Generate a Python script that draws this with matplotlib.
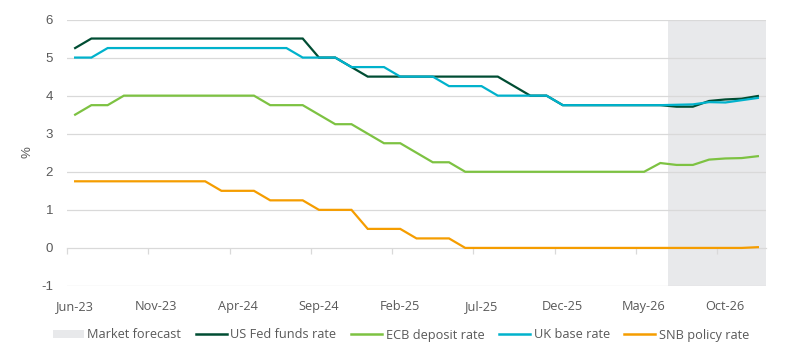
import matplotlib
matplotlib.use("Agg")
import matplotlib.pyplot as plt
from matplotlib.patches import Patch
from matplotlib.lines import Line2D
import numpy as np
import pandas as pd

months = list(pd.date_range("2023-06-01", periods=43, freq="MS").strftime("%b-%y"))

fed = [5.25] + [5.5] * 14 + [5.0, 5.0, 4.75] + [4.5] * 9 + [4.25, 4.0, 4.0] + [3.75] * 7 + \
      [3.71, 3.71, 3.86, 3.90, 3.92, 3.99]
uk = [5.0, 5.0] + [5.25] * 12 + [5.0] * 3 + [4.75] * 3 + [4.5] * 3 + [4.25] * 3 + [4.0] * 4 + \
     [3.75] * 7 + [3.76, 3.77, 3.83, 3.82, 3.88, 3.94]
ecb = [3.5, 3.75, 3.75] + [4.0] * 9 + [3.75] * 3 + [3.5, 3.25, 3.25, 3.0, 2.75, 2.75, 2.5, 2.25, 2.25] + \
      [2.0] * 12 + [2.23, 2.18, 2.18, 2.32, 2.35, 2.36, 2.41]
snb = [1.75] * 9 + [1.5] * 3 + [1.25] * 3 + [1.0] * 3 + [0.5] * 3 + [0.25] * 3 + [0.0] * 18 + [0.02]

forecast_start = "Jul-26"
series_names = ["US Fed funds rate", "ECB deposit rate", "UK base rate", "SNB policy rate"]
tick_labels = ["Jun-23", "Nov-23", "Apr-24", "Sep-24", "Feb-25", "Jul-25", "Dec-25", "May-26", "Oct-26"]
y_ticks = [-1, 0, 1, 2, 3, 4, 5, 6]

colors = ["#004d33", "#7dc242", "#00b2cc", "#f59d00"]
shade = "#e8e9eb"
grid_c = "#d9d9d9"
txt_c = "#595959"

W, H = 802, 350
fig = plt.figure(figsize=(W / 100, H / 100), dpi=100)
ax = fig.add_axes([67 / W, 1 - 286 / H, (766 - 67) / W, (286 - 19.5) / H])

x = np.arange(len(months))
fs_idx = months.index(forecast_start)
ax.axvspan(fs_idx - 0.5, len(months) - 0.5, color=shade, lw=0, zorder=0)

for yv in y_ticks:
    if yv != 0:
        ax.axhline(yv, color=grid_c, lw=0.9, zorder=1)

for vals, c in zip([fed, ecb, uk, snb], colors):
    ax.plot(x, vals, color=c, lw=1.6, zorder=3, solid_joinstyle="miter")

ax.set_xlim(-0.5, len(months) - 0.5)
ax.set_ylim(-1, 6)
for s in ax.spines.values():
    s.set_visible(False)

ax.set_yticks(y_ticks)
ax.set_yticklabels([str(v) for v in y_ticks], fontsize=9.5, color=txt_c, family="Liberation Sans")
ax.tick_params(axis="y", length=0, pad=10)

tick_pos = [months.index(t) for t in tick_labels]
ax.set_xticks(tick_pos)
ax.set_xticklabels(tick_labels, fontsize=9.2, color=txt_c, family="Open Sans")
ax.tick_params(axis="x", length=0, pad=10)

# zero axis line with boundary tick marks
sec = ax.secondary_xaxis(1 / 7)
sec.set_xticks(np.arange(-0.5, len(months), 5))
sec.set_xticklabels([])
sec.tick_params(axis="x", direction="out", length=4, color=grid_c, width=0.9)
sec.spines["bottom"].set_color(grid_c)
sec.spines["bottom"].set_linewidth(0.9)

fig.text(28 / W, 1 - 152 / H, "%", rotation=90, ha="center", va="center",
         fontsize=9.5, color=txt_c, family="Liberation Sans")

handles = [Patch(facecolor=shade, edgecolor="none")] + \
          [Line2D([], [], color=c, lw=1.8) for c in colors]
labels = ["Market forecast"] + series_names
leg = fig.legend(handles, labels, loc="center", bbox_to_anchor=(401 / W, 1 - 335 / H), ncol=5,
                 frameon=False, prop={"family": "Open Sans", "size": 9.2},
                 handlelength=2.4, handleheight=0.55, handletextpad=0.3, columnspacing=1.15,
                 borderaxespad=0, borderpad=0)
for t in leg.get_texts():
    t.set_color(txt_c)

fig.savefig("out.png", dpi=100)
